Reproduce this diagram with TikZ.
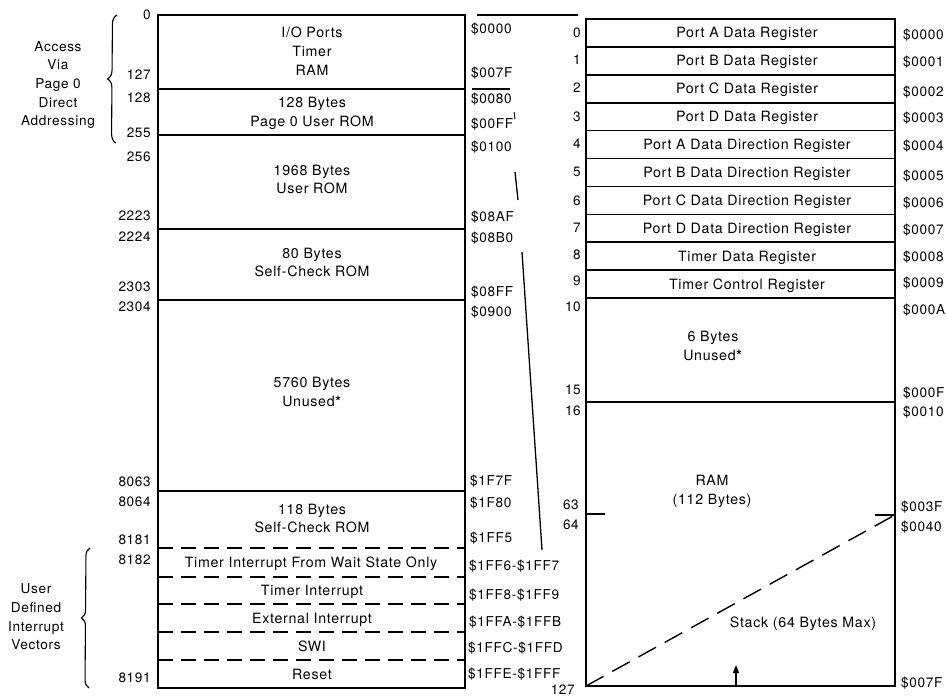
\documentclass[tikz,border=0pt]{standalone}
\usepackage{fontspec}
\setmainfont{TeX Gyre Heros}[LetterSpace=5]
\usetikzlibrary{decorations.pathreplacing,arrows.meta}
\newcommand{\boldstar}{\textbf{*}}
\begin{document}
\begin{tikzpicture}[x=1pt,y=-1pt,
  lab/.style={inner sep=0pt,text height=9.5pt,text depth=0pt,font=\fontsize{13.6}{15}\selectfont},
  blab/.style={inner sep=0pt,text height=9.8pt,text depth=0pt,font=\fontsize{14.2}{15}\selectfont},
  rl/.style={lab,anchor=east},
  ll/.style={lab,anchor=west},
  boxline/.style={line width=1.6pt},
  dline/.style={line width=1.6pt,dash pattern=on 15pt off 8pt},
  diag/.style={line width=1.4pt,dash pattern=on 20pt off 10pt},
  thinl/.style={line width=1.3pt},
  bracel/.style={line width=1.1pt,decorate,decoration={brace,amplitude=#1,aspect=0.5}}]
\useasboundingbox (0,0) rectangle (947,696);
\fill[white] (0,0) rectangle (947,696);

% ---------- left memory map ----------
\coordinate (LTL) at (158,15);
\coordinate (LBR) at (465,688);
\draw[boxline] (LTL) rectangle (LBR);
\foreach \y in {89,135,229,300,491} \draw[boxline] (158,\y) -- (465,\y);
\foreach \y in {548,577,604,632,660} \draw[dline] (158,\y) -- (465,\y);

\node[blab] (t1a) at (312,33) {I/O Ports};
\node[blab] (t1b) at (312,52) {Timer};
\node[blab] (t1c) at (312,71) {RAM};
\node[blab] (t2a) at (312,103) {128 Bytes};
\node[blab] (t2b) at (312,122) {Page 0 User ROM};
\node[blab] (t3a) at (312,171) {1968 Bytes};
\node[blab] (t3b) at (312,189) {User ROM};
\node[blab] (t4a) at (312,254) {80 Bytes};
\node[blab] (t4b) at (312,272) {Self-Check ROM};
\node[blab] (t5a) at (312,383) {5760 Bytes};
\node[blab] (t5b) at (312,402) {Unused\boldstar};
\node[blab] (t6a) at (312,510) {118 Bytes};
\node[blab] (t6b) at (312,528) {Self-Check ROM};
\node[blab] (t7) at (311,563) {Timer Interrupt From Wait State Only};
\node[blab] (t8) at (312,591) {Timer Interrupt};
\node[blab] (t9) at (312,619) {External Interrupt};
\node[blab] (t10) at (312,647) {SWI};
\node[blab] (t11) at (312,675) {Reset};

% left decimal addresses
\node[rl] (d0) at (151,15) {0};
\node[rl] (d127) at (151,75) {127};
\node[rl] (d128) at (151,98) {128};
\node[rl] (d255) at (151,133) {255};
\node[rl] (d256) at (151,157) {256};
\node[rl] (d2223) at (151,216) {2223};
\node[rl] (d2224) at (151,237) {2224};
\node[rl] (d2303) at (151,287) {2303};
\node[rl] (d2304) at (151,307) {2304};
\node[rl] (d8063) at (151,482) {8063};
\node[rl] (d8064) at (151,502) {8064};
\node[rl] (d8181) at (151,540) {8181};
\node[rl] (d8182) at (151,560) {8182};
\node[rl] (d8191) at (151,678) {8191};

% left hex addresses
\node[ll] (h0000) at (471,29) {\$0000};
\node[ll] (h007F) at (471,73) {\$007F};
\node[ll] (h0080) at (471,99) {\$0080};
\node[ll] (h00FF) at (471,124) {\$00FF};
\node[ll] (h0100) at (471,147) {\$0100};
\node[ll] (h08AF) at (471,217) {\$08AF};
\node[ll] (h08B0) at (471,238) {\$08B0};
\node[ll] (h08FF) at (471,292) {\$08FF};
\node[ll] (h0900) at (471,312) {\$0900};
\node[ll] (h1F7F) at (470,481) {\$1F7F};
\node[ll] (h1F80) at (470,503) {\$1F80};
\node[ll] (h1FF5) at (470,538) {\$1FF5};
\node[ll] (h1FF6) at (469,566) {\$1FF6-\$1FF7};
\node[ll] (h1FF8) at (469,595) {\$1FF8-\$1FF9};
\node[ll] (h1FFA) at (469,622) {\$1FFA-\$1FFB};
\node[ll] (h1FFC) at (468,648) {\$1FFC-\$1FFD};
\node[ll] (h1FFE) at (468,674) {\$1FFE-\$1FFF};

% braces and their captions
\coordinate (b1t) at (117,15);
\coordinate (b1b) at (116,143);
\draw[bracel=9pt] (b1b) -- (b1t);
\node[lab] (a1) at (58,47) {Access};
\node[lab] (a2) at (58,65) {Via};
\node[lab] (a3) at (58,84) {Page 0};
\node[lab] (a4) at (58,103) {Direct};
\node[lab] (a5) at (58,121) {Addressing};

\coordinate (b2t) at (90,548);
\coordinate (b2b) at (89,688);
\draw[bracel=8pt] (b2b) -- (b2t);
\node[lab] (u1) at (36,589) {User};
\node[lab] (u2) at (36,608) {Defined};
\node[lab] (u3) at (36,627) {Interrupt};
\node[lab] (u4) at (36,645) {Vectors};

% expansion lines (broken, as printed)
\coordinate (e0) at (477,15);
\coordinate (e1) at (578,15);
\draw[thinl] (e0) -- (e1);
\coordinate (f0) at (472,89);
\coordinate (f1) at (510,89);
\draw[thinl] (f0) -- (f1);
\coordinate (g0) at (514,112);
\coordinate (g1) at (515,119);
\draw[line width=1pt] (g0) -- (g1);
\coordinate (g2) at (515,172);
\coordinate (g3) at (518,200);
\draw[thinl] (g2) -- (g3);
\coordinate (g4) at (522,252);
\coordinate (g5) at (542,550);
\draw[thinl] (g4) -- (g5);

% ---------- right page-0 map ----------
\coordinate (RTL) at (586,19);
\coordinate (RBR) at (895,686);
\draw[boxline] (RTL) rectangle (RBR);
\foreach \i in {1,...,10} \draw[boxline] (586,{19+27.9*\i}) -- (895,{19+27.9*\i});
\draw[boxline] (586,402) -- (895,402);

\foreach \n/\t [count=\i from 0] in {ra/Port A Data Register,rb/Port B Data Register,rc/Port C Data Register,rd/Port D Data Register,rda/Port A Data Direction Register,rdb/Port B Data Direction Register,rdc/Port C Data Direction Register,rdd/Port D Data Direction Register,rtd/Timer Data Register,rtc/Timer Control Register}
  \node[blab] (\n) at (747,{33+27.9*\i}) {\t};

\node[blab] (un1) at (713,337) {6 Bytes};
\node[blab] (un2) at (713,356) {Unused\boldstar};
\node[blab] (ram1) at (712,481) {RAM};
\node[blab] (ram2) at (712,500) {(112 Bytes)};
\node[blab] (stk) at (803,623) {Stack (64 Bytes Max)};

% right decimal addresses
\node[rl] (r0) at (581,33) {0};
\node[rl] (r1) at (581,60) {1};
\node[rl] (r2) at (581,88) {2};
\node[rl] (r3) at (581,117) {3};
\node[rl] (r4) at (581,144) {4};
\node[rl] (r5) at (581,172) {5};
\node[rl] (r6) at (581,201) {6};
\node[rl] (r7) at (581,228) {7};
\node[rl] (r8) at (581,255) {8};
\node[rl] (r9) at (581,281) {9};
\node[rl] (r10) at (581,307) {10};
\node[rl] (r15) at (581,390) {15};
\node[rl] (r16) at (581,411) {16};
\node[rl] (r63) at (579,505) {63};
\node[rl] (r64) at (579,525) {64};
\node[rl] (r127) at (575,690) {127};

% right hex addresses
\node[ll] (s0) at (903,35) {\$0000};
\node[ll] (s1) at (903,62) {\$0001};
\node[ll] (s2) at (903,92) {\$0002};
\node[ll] (s3) at (903,118) {\$0003};
\node[ll] (s4) at (903,146) {\$0004};
\node[ll] (s5) at (903,176) {\$0005};
\node[ll] (s6) at (903,203) {\$0006};
\node[ll] (s7) at (903,230) {\$0007};
\node[ll] (s8) at (903,257) {\$0008};
\node[ll] (s9) at (903,283) {\$0009};
\node[ll] (sA) at (903,310) {\$000A};
\node[ll] (sF) at (903,393) {\$000F};
\node[ll] (s10) at (903,412) {\$0010};
\node[ll] (s3F) at (901,507) {\$003F};
\node[ll] (s40) at (901,527) {\$0040};
\node[ll] (s7F) at (901,683) {\$007F};

% stack region marks
\coordinate (k1) at (586,514);
\coordinate (k2) at (605,514);
\draw[boxline] (k1) -- (k2);
\coordinate (k3) at (875,515);
\coordinate (k4) at (895,515);
\draw[boxline] (k3) -- (k4);
\coordinate (dg0) at (586,686);
\coordinate (dg1) at (893,516);
\draw[diag] (dg0) -- (dg1);
\coordinate (ar0) at (736,686);
\coordinate (ar1) at (736,665);
\draw[line width=1.3pt,-{Triangle[length=8pt,width=6pt]}] (ar0) -- (ar1);
\end{tikzpicture}
\end{document}
